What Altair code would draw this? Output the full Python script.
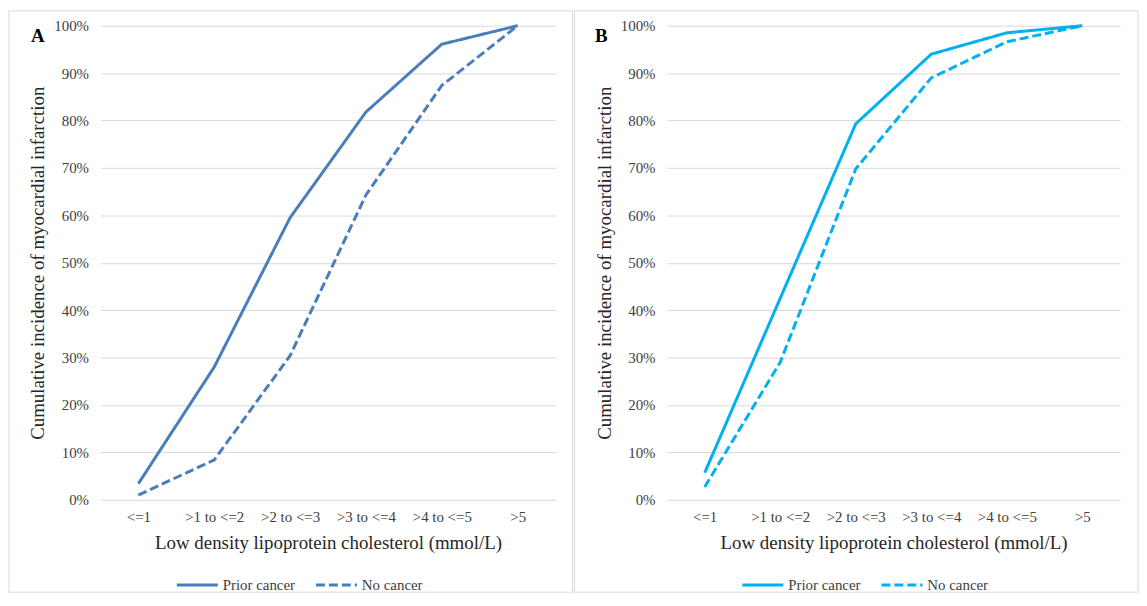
import altair as alt
import pandas as pd

categories = ["<=1", ">1 to <=2", ">2 to <=3", ">3 to <=4", ">4 to <=5", ">5"]
groups = ["Prior cancer", "No cancer"]

a_prior = [3.4, 28.0, 59.5, 81.8, 96.1, 100.0]
a_none = [1.0, 8.4, 30.4, 64.3, 87.4, 100.0]
b_prior = [5.7, 42.5, 79.3, 94.0, 98.5, 100.0]
b_none = [2.7, 29.0, 69.8, 89.0, 96.6, 100.0]

color_a = "#4a7ebb"
color_b = "#00b0f0"

FONT = "Liberation Serif"
PLOT_H = 477


def panel(prior, none, color, letter, width, rx, rx2, lx, letter_x):
    rows = []
    for g, vals in zip(groups, [prior, none]):
        for c, v in zip(categories, vals):
            rows.append({"cat": c, "group": g, "val": v})
    df = pd.DataFrame(rows)
    one = pd.DataFrame({"k": [0]})

    legend = alt.Legend(
        title=None, orient="none", legendX=lx, legendY=540, direction="horizontal",
        symbolType="stroke", symbolSize=1700, symbolStrokeWidth=3,
        labelFont=FONT, labelFontSize=15, labelColor="#404040",
        labelOffset=3, columnPadding=14, padding=0,
    )
    lines = alt.Chart(df).mark_line(strokeWidth=3, strokeCap="butt").encode(
        x=alt.X("cat:N", sort=categories,
                scale=alt.Scale(type="point", padding=0.5),
                axis=alt.Axis(title="Low density lipoprotein cholesterol (mmol/L)",
                              labelAngle=0, ticks=False, domain=False, grid=False,
                              labelPadding=10, titlePadding=9)),
        y=alt.Y("val:Q", scale=alt.Scale(domain=[0, 100]),
                axis=alt.Axis(title="Cumulative incidence of myocardial infarction",
                              values=list(range(0, 101, 10)),
                              labelExpr="datum.value + '%'",
                              ticks=False, domain=False, grid=True,
                              labelPadding=12, titlePadding=6)),
        color=alt.Color("group:N", sort=groups,
                        scale=alt.Scale(domain=groups, range=[color, color]),
                        legend=legend),
        strokeDash=alt.StrokeDash("group:N", sort=groups,
                                  scale=alt.Scale(domain=groups, range=[[1, 0], [9, 4]]),
                                  legend=legend),
    )
    border = alt.Chart(one).mark_rect(filled=False, stroke="#d9d9d9", strokeWidth=1).encode(
        x=alt.value(rx), x2=alt.value(rx2), y=alt.value(-15), y2=alt.value(570)
    )
    label = alt.Chart(one).mark_text(
        text=letter, font=FONT, fontSize=19, fontWeight="bold", color="#000000",
        align="center", baseline="middle"
    ).encode(x=alt.value(letter_x), y=alt.value(10))
    return alt.layer(border, lines, label).properties(width=width, height=PLOT_H)


pa = panel(a_prior, a_none, color_a, "A", 458, -92, 475, 75, -63)
pb = panel(b_prior, b_none, color_b, "B", 456, -93, 474, 74, -66)

chart = alt.hconcat(pa, pb, spacing=0).resolve_scale(
    color="independent", strokeDash="independent"
).resolve_legend(color="independent", strokeDash="independent").properties(
    padding=0
).configure_view(stroke=None).configure_axis(
    labelFont=FONT, labelFontSize=15, labelColor="#404040",
    titleFont=FONT, titleFontSize=19, titleColor="#262626", titleFontWeight="normal",
    gridColor="#d9d9d9", gridWidth=1,
)

chart.save("out.html", embed_options={"renderer": "svg", "actions": False})
